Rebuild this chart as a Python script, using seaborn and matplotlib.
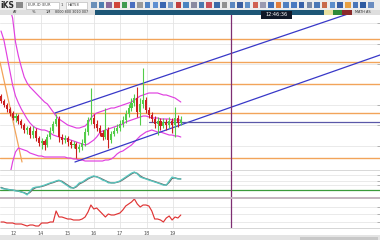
import matplotlib
matplotlib.use("Agg")
import matplotlib.pyplot as plt
from matplotlib.patches import Rectangle
import seaborn as sns

# ---------------- data (price units, bar index on x) ----------------
bars = list(range(63))
opens = [72,67,63,59,55,50,52,47,43,38,40,33,37,30,25,27,23,31,37,44,49,31,28,30,26,23,24,19,21,25,36,48,50,44,40,35,31,38,28,34,37,40,44,48,54,60,65,70,56,64,68,58,53,49,44,47,42,46,43,47,43,50,45]
closes = [67,63,59,55,50,52,47,43,38,40,33,37,30,25,27,23,31,37,44,49,31,28,30,26,23,24,19,21,25,36,48,50,44,40,35,31,38,28,34,37,40,44,48,54,60,65,70,56,64,68,58,53,49,44,47,42,46,43,47,43,50,45,48]
highs = [74,69,65,61,57,55,54,49,45,42,42,42,40,32,30,29,34,41,47,54,52,34,33,32,28,27,26,24,29,40,51,80,54,48,43,38,60,41,37,41,44,48,52,58,64,70,74,81,70,100,71,61,56,52,51,50,50,49,51,50,61,53,52]
lows = [65,61,56,52,48,46,44,40,35,34,30,30,27,22,19,18,21,29,35,42,26,24,25,22,20,20,10,16,18,22,33,44,40,37,32,28,29,20,25,32,35,37,41,45,51,57,62,51,43,60,55,50,46,40,33,38,40,38,40,35,31,41,43]
bb_upper = [198,183,170,160,150,126,112,101,91,85,81,78,75,72,69,66,64,60,56,52,49,47,45,43,42,41,40,40,41,42,45,50,53,55,56,57,58,59,60,60,61,62,63,64,65,66,68,70,72,73,74,75,75,75,75,74,73,73,72,71,70,68,66]
bb_mid = [137,128,113,98,83,72,65,59,54,49,45,42,40,39,38,38,37,35,33,32,31,30,29,29,28,27,26,25,24,23,24,26,28,31,35,37,38,39,40,41,42,43,44,46,47,48,49,50,51,52,52,51,50,50,50,49,49,49,49,48,48,48,48]
bb_lower = [-32,-24,-16,-8,6,16,20,19,18,17,15,14,13,12,12,11,11,11,11,11,11,11,11,10,10,9,9,8,8,7,7,7,7,7,7,7,8,8,9,11,14,16,17,19,21,23,26,29,32,34,36,37,38,37,36,36,35,34,33,33,32,32,31]
osc_k = [36,32,32,29,29,25,25,21,18,11,25,36,39,39,43,46,50,54,57,61,64,57,50,43,36,36,43,54,57,64,71,75,79,75,71,64,61,54,54,54,57,61,68,75,82,89,93,86,75,71,68,64,61,57,54,50,46,46,61,75,71,68,68]
osc_d = [38,34,31,30,28,27,24,22,19,14,20,31,37,39,41,44,48,52,55,59,62,60,53,46,39,35,40,50,55,61,68,73,77,76,72,67,62,57,54,54,56,59,65,72,79,86,91,88,79,73,69,66,62,59,55,52,48,46,56,70,72,69,68]
lower_ind = [6,6,5,5,5,4,4,4,3,2,3,3,2,2,5,5,5,6,6,17,11,11,10,9,9,8,8,8,9,11,16,23,19,20,17,14,11,14,13,13,14,15,18,22,24,26,29,24,21,23,23,22,17,9,9,8,6,10,12,8,11,10,13]

h_levels = [129, 106, 84, 55, 10]
up_chan_bars = [18.6, 119.6]
up_chan_prices = [55, 154]
lo_chan_bars = [25.5, 130.7]
lo_chan_prices = [6, 113]
mid_line_bars = [51, 131]
mid_line_prices = [46, 46]
diag_bars = [-0.35, 7.24]
diag_prices = [106, 6]
cursor_bar = 79.3
grid_main = [22, 43, 63, 104, 124, 145]
osc_level = 30
osc_grid = [46, 61, 82]
low_grid = [6, 14, 21]
date_bars = [4.5, 13.8, 23.1, 32.1, 41.0, 50.3, 59.3]
date_labels = ["12", "14", "15", "16", "17", "18", "19"]

# ---------------- figure ----------------
sns.set_style("white")
W, H = 380, 240
fig = plt.figure(figsize=(3.8, 2.4), dpi=100)
fig.patch.set_facecolor("white")

def fx(px):
    return px / W

def fy(py):
    return 1 - py / H

XLIM = (-0.345, 130.69)

ax = fig.add_axes([0, fy(170), 1, (170 - 14) / H])
ax_o = fig.add_axes([0, fy(198), 1, 28 / H])
ax_l = fig.add_axes([0, fy(228), 1, 30 / H])

for a in (ax, ax_o, ax_l):
    a.set_xlim(*XLIM)
    for s in a.spines.values():
        s.set_visible(False)
    a.yaxis.tick_right()
    a.tick_params(axis="y", direction="in", length=2.5, width=0.5,
                  colors="#9a9a9a", labelright=False, right=True, left=False)
    a.set_facecolor("white")

# ---- main panel ----
ax.set_ylim(-2, 154)
ax.set_yticks(grid_main)
for g in grid_main:
    ax.axhline(g, color="#e6e6e6", lw=0.6, zorder=0)
for d in date_bars:
    ax.axvline(d, color="#e4e4e4", lw=0.6, zorder=0, ymax=1)
ax.set_xticks([])

for lv in h_levels:
    ax.axhline(lv, color="#f2a45a", lw=1.0, zorder=1)

sns.lineplot(x=diag_bars, y=diag_prices, ax=ax, color="#f2a45a", lw=0.9)
sns.lineplot(x=bars, y=bb_upper, ax=ax, color="#e040e0", lw=0.85)
sns.lineplot(x=bars, y=bb_mid, ax=ax, color="#e040e0", lw=0.85)
sns.lineplot(x=bars, y=bb_lower, ax=ax, color="#e040e0", lw=0.85)

cols = ["#52cc48" if c >= o else "#cc1f1f" for o, c in zip(opens, closes)]
ax.vlines(bars, lows, highs, colors=cols, lw=0.8, zorder=3)
ax.bar(bars, [max(abs(c - o), 0.8) for o, c in zip(opens, closes)],
       bottom=[min(o, c) for o, c in zip(opens, closes)],
       width=0.72, color=cols, zorder=4, linewidth=0)

sns.lineplot(x=up_chan_bars, y=up_chan_prices, ax=ax, color="#3838c8", lw=0.9)
sns.lineplot(x=lo_chan_bars, y=lo_chan_prices, ax=ax, color="#3838c8", lw=0.9)
sns.lineplot(x=mid_line_bars, y=mid_line_prices, ax=ax, color="#5a58a8", lw=0.9)
ax.set_xlim(*XLIM)
ax.set_ylim(-2, 154)

# ---- oscillator ----
ax_o.set_ylim(0, 100)
ax_o.set_yticks(osc_grid)
for g in osc_grid:
    ax_o.axhline(g, color="#e6e6e6", lw=0.6, zorder=0)
for d in date_bars:
    ax_o.axvline(d, color="#e4e4e4", lw=0.6, zorder=0)
ax_o.axhline(osc_level, color="#3a9a3a", lw=0.9)
sns.lineplot(x=bars, y=osc_d, ax=ax_o, color="#6a6a6a", lw=0.9)
sns.lineplot(x=bars, y=osc_k, ax=ax_o, color="#55c8c0", lw=0.9)
ax_o.set_xticks([])
ax_o.set_xlim(*XLIM)
ax_o.set_ylim(0, 100)

# ---- lower panel ----
ax_l.set_ylim(0, 30)
ax_l.set_yticks(low_grid)
for g in low_grid:
    ax_l.axhline(g, color="#e6e6e6", lw=0.6, zorder=0)
for d in date_bars:
    ax_l.axvline(d, color="#e4e4e4", lw=0.6, zorder=0)
sns.lineplot(x=bars, y=lower_ind, ax=ax_l, color="#e03434", lw=0.85)
ax_l.set_xticks(date_bars)
ax_l.set_xticklabels(date_labels)
ax_l.set_xticks(bars, minor=True)
ax_l.tick_params(axis="x", which="major", length=2, width=0.6, colors="#222222",
                 labelsize=3.6, pad=0.5, labelcolor="#555555")
ax_l.tick_params(axis="x", which="minor", length=1.6, width=0.6, colors="#222222")
ax_l.set_xlim(*XLIM)
ax_l.set_ylim(0, 30)

for a in (ax, ax_o, ax_l):
    a.set_xlabel("")
    a.set_ylabel("")
    a.axvline(cursor_bar, color="#7e2e72", lw=0.9, zorder=6)

# separators
fig.add_artist(plt.Line2D([0, 1], [fy(170), fy(170)], color="#d2d2d2", lw=0.6))
fig.add_artist(plt.Line2D([0, 1], [fy(198), fy(198)], color="#c4b4bf", lw=1.4))
fig.add_artist(plt.Line2D([0, 1], [fy(228), fy(228)], color="#cfcfcf", lw=0.6))

# ---------------- chrome (toolbar, header, footer) ----------------
def rect(x0, y0, x1, y1, color, z=10, ec="none", lw=0):
    fig.add_artist(Rectangle((fx(x0), fy(y1)), fx(x1 - x0), (y1 - y0) / H,
                             transform=fig.transFigure, facecolor=color,
                             edgecolor=ec, linewidth=lw, zorder=z))

rect(0, 0, 380, 10, "#ececec")
fig.text(fx(0.5), fy(5.2), "iKS", fontsize=5.5, fontweight="bold", color="#2a2a2a",
         va="center", ha="left", zorder=11)
rect(16, 2, 23, 8, "#8a8a8a", z=11)
rect(26, 2, 59, 8.5, "white", z=11, ec="#b0b0b0", lw=0.4)
fig.text(fx(27.5), fy(5.3), "EUR-ID (EUR", fontsize=2.6, color="#444444",
         va="center", ha="left", zorder=12)
fig.text(fx(61), fy(5.3), "1", fontsize=2.8, color="#444444", va="center", zorder=12)
rect(66, 2, 87, 8.5, "white", z=11, ec="#b0b0b0", lw=0.4)
fig.text(fx(67.5), fy(5.3), "HAT58", fontsize=2.6, color="#444444",
         va="center", ha="left", zorder=12)
icon_cols = ["#6a8fb8", "#4d7fb0", "#8a6a9a", "#d0463a", "#3e9a4e", "#4a6fc0", "#9a9a9a",
             "#4f83c4", "#5f8fd0", "#3a66b0", "#7a9cc8", "#c04040", "#4a84c0", "#8a8aa0",
             "#4a7ab0", "#c8505a", "#3a6aa8", "#909090", "#5a86c0", "#3a5ea0", "#6090c8",
             "#d06050", "#9a9ab0", "#4070b8", "#e07c3a", "#5080c0", "#4a7ac0", "#3a62a8",
             "#7a8aa8", "#4b78b6", "#c86a4a", "#5d8ecb", "#3a5fa4", "#e8a040", "#4a76b8",
             "#2e5aa0", "#6a8cc0"]
xi = 91
for c in icon_cols:
    rect(xi, 2.5, xi + 5.5, 8, c, z=11)
    xi += 7.7

rect(0, 10, 95, 14.5, "#dedede")
fig.text(fx(13), fy(12.3), "AF", fontsize=2.6, color="#333333", va="center", zorder=12)
fig.text(fx(32), fy(12.3), "%", fontsize=2.6, color="#333333", va="center", zorder=12)
fig.text(fx(46), fy(12.3), "1M", fontsize=2.6, color="#333333", va="center", zorder=12)
fig.text(fx(55), fy(12.3), "8000 800 3010 007", fontsize=2.4, color="#333333",
         va="center", zorder=12)
rect(95, 10, 324, 14.5, "#1d5676")
rect(324, 10, 333, 14.5, "#e8e0a0", z=11)
rect(333, 10, 342, 14.5, "#2e8a3a", z=11)
rect(342, 10, 352, 14.5, "#8a2a2a", z=11)
rect(352, 10, 380, 14.5, "#dedede", z=11)
fig.text(fx(355), fy(12.3), "MATH AS", fontsize=2.5, color="#333333", va="center", zorder=12)
rect(261, 10.5, 292, 18.5, "#101828", z=13)
fig.text(fx(276.5), fy(14.5), "12:46:36", fontsize=3.6, color="white",
         ha="center", va="center", zorder=14)

rect(0, 235, 380, 240, "#e4e4e4")
rect(300, 236.5, 378, 239.5, "#c8c8c8", z=11)

fig.savefig("out.png", dpi=100)
